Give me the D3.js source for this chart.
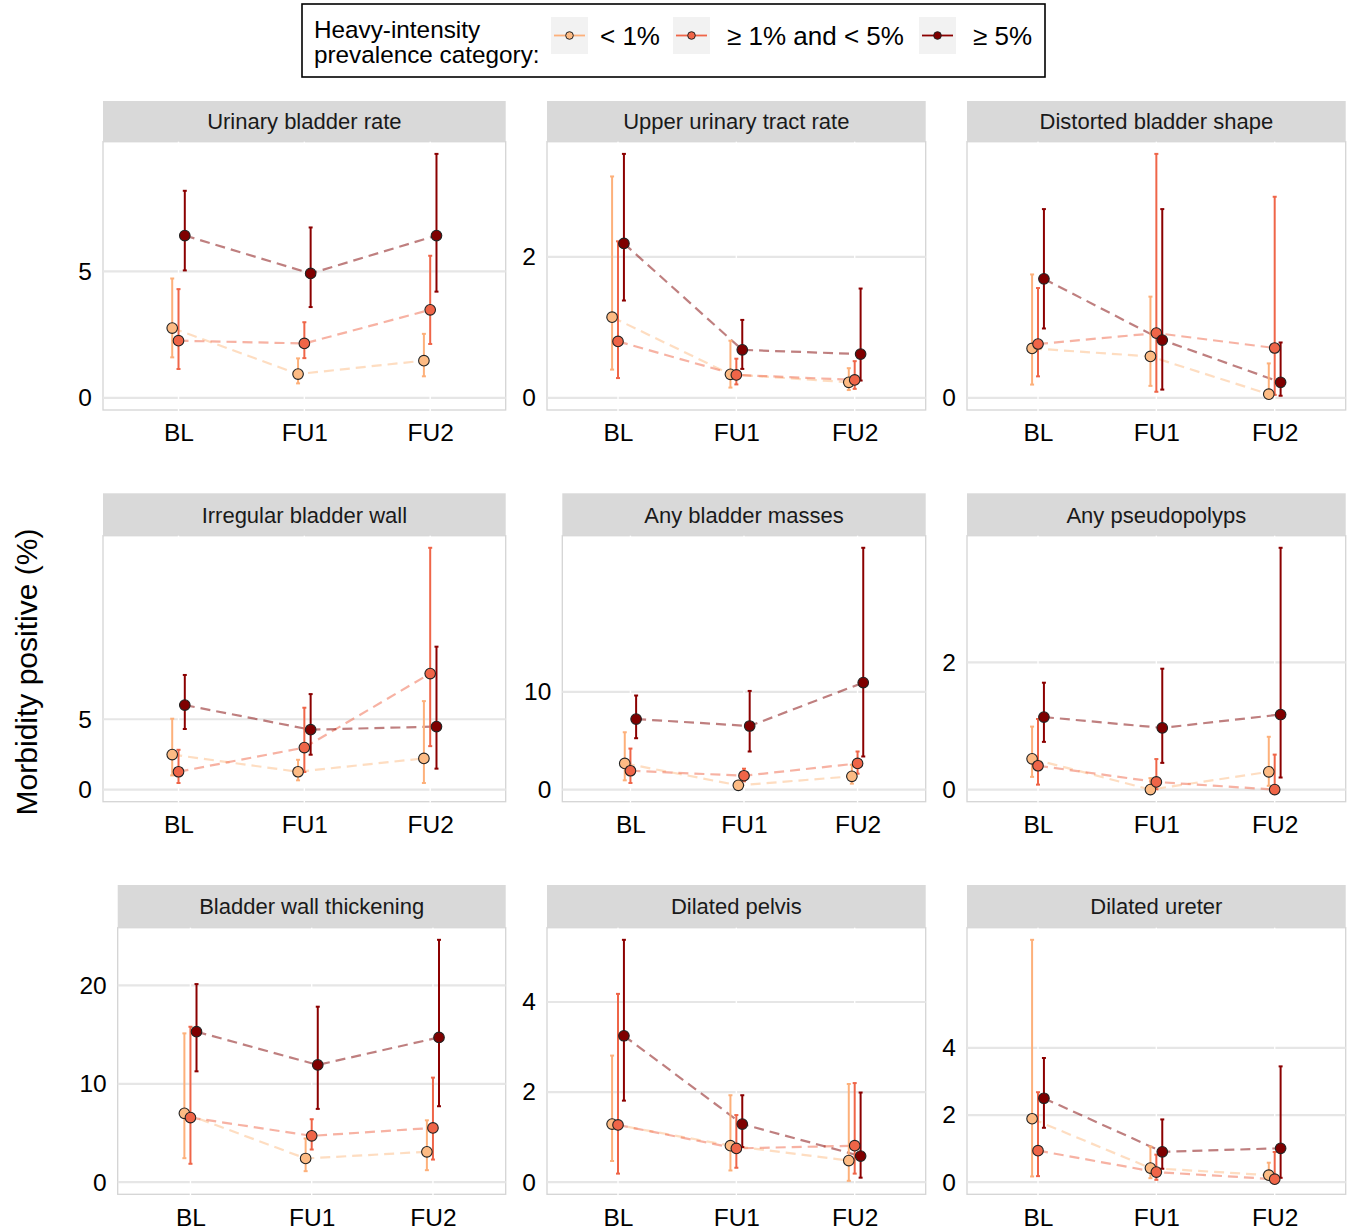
<!DOCTYPE html>
<html>
<head>
<meta charset="utf-8">
<script src="https://cdn.jsdelivr.net/npm/d3@7"></script>
<style>
  body { margin: 0; background: #fff; }
  svg { display: block; }
</style>
</head>
<body>
<svg id="chart" width="1347" height="1230"></svg>
<script>
// ---- Data -------------------------------------------------------------
const timepoints = ["BL", "FU1", "FU2"];
const categories = ["< 1%", "\u2265 1% and < 5%", "\u2265 5%"];
const legendTitle = ["Heavy-intensity", "prevalence category:"];
const yTitle = "Morbidity positive (%)";

const panelTitles = [
  "Urinary bladder rate", "Upper urinary tract rate", "Distorted bladder shape",
  "Irregular bladder wall", "Any bladder masses", "Any pseudopolyps",
  "Bladder wall thickening", "Dilated pelvis", "Dilated ureter"
];
const panelTicks = [[0, 5], [0, 2], [0], [0, 5], [0, 10], [0, 2], [0, 10, 20], [0, 2, 4], [0, 2, 4]];

// Each array: rows = prevalence category (< 1%, 1-5%, >= 5%), columns = BL, FU1, FU2
const urinaryBladderEst  = [[2.76, 0.94, 1.47], [2.26, 2.15, 3.48], [6.42, 4.92, 6.42]];
const urinaryBladderLow  = [[1.60, 0.57, 0.85], [1.14, 1.57, 2.13], [5.04, 3.59, 4.20]];
const urinaryBladderHigh = [[4.72, 1.56, 2.53], [4.30, 2.99, 5.62], [8.19, 6.74, 9.65]];

const upperTractEst  = [[1.144, 0.333, 0.22], [0.80, 0.325, 0.254], [2.19, 0.68, 0.62]];
const upperTractLow  = [[0.40, 0.145, 0.11], [0.28, 0.19, 0.127], [1.38, 0.41, 0.245]];
const upperTractHigh = [[3.14, 0.81, 0.42], [2.22, 0.555, 0.52], [3.46, 1.105, 1.55]];

const distortedEst  = [[0.385, 0.322, 0.028], [0.419, 0.504, 0.388], [0.927, 0.45, 0.121]];
const distortedLow  = [[0.103, 0.093, 0.01], [0.167, 0.047, 0.023], [0.54, 0.064, 0.016]];
const distortedHigh = [[0.961, 0.788, 0.268], [0.855, 1.90, 1.566], [1.47, 1.47, 0.431]];

const irregularEst  = [[2.49, 1.27, 2.22], [1.27, 2.99, 8.25], [6.01, 4.26, 4.48]];
const irregularLow  = [[1.01, 0.66, 0.47], [0.47, 1.25, 3.09], [4.31, 2.48, 1.49]];
const irregularHigh = [[5.04, 2.12, 6.29], [2.83, 5.82, 17.19], [8.15, 6.79, 10.16]];

const massesEst  = [[2.68, 0.44, 1.36], [1.93, 1.42, 2.68], [7.22, 6.51, 10.95]];
const massesLow  = [[0.95, 0.15, 0.61], [0.68, 0.85, 1.63], [5.26, 3.90, 3.39]];
const massesHigh = [[5.87, 0.90, 2.54], [4.20, 2.14, 3.90], [9.63, 10.1, 24.75]];

const pseudopolypsEst  = [[0.484, 0.0, 0.28], [0.375, 0.12, 0.0], [1.14, 0.97, 1.18]];
const pseudopolypsLow  = [[0.20, 0.0, 0.06], [0.078, 0.005, 0.0], [0.75, 0.42, 0.19]];
const pseudopolypsHigh = [[0.99, 0.18, 0.83], [1.11, 0.48, 0.55], [1.68, 1.90, 3.80]];

const thickeningEst  = [[7.0, 2.41, 3.09], [6.57, 4.71, 5.52], [15.3, 11.92, 14.72]];
const thickeningLow  = [[2.44, 1.12, 1.22], [1.87, 3.32, 2.30], [11.27, 7.45, 7.72]];
const thickeningHigh = [[15.13, 4.44, 6.29], [15.8, 6.40, 10.63], [20.14, 17.84, 24.64]];

const pelvisEst  = [[1.29, 0.81, 0.48], [1.27, 0.75, 0.81], [3.25, 1.29, 0.58]];
const pelvisLow  = [[0.47, 0.26, 0.03], [0.19, 0.32, 0.19], [1.81, 0.78, 0.10]];
const pelvisHigh = [[2.81, 1.93, 2.18], [4.18, 1.49, 2.20], [5.38, 1.93, 1.99]];

const ureterEst  = [[1.89, 0.42, 0.21], [0.94, 0.30, 0.09], [2.50, 0.905, 1.01]];
const ureterLow  = [[0.17, 0.12, 0.08], [0.18, 0.07, 0.03], [1.62, 0.40, 0.13]];
const ureterHigh = [[7.22, 1.06, 0.58], [2.68, 0.82, 0.90], [3.70, 1.87, 3.45]];

const panelEst  = [urinaryBladderEst, upperTractEst, distortedEst, irregularEst, massesEst, pseudopolypsEst, thickeningEst, pelvisEst, ureterEst];
const panelLow  = [urinaryBladderLow, upperTractLow, distortedLow, irregularLow, massesLow, pseudopolypsLow, thickeningLow, pelvisLow, ureterLow];
const panelHigh = [urinaryBladderHigh, upperTractHigh, distortedHigh, irregularHigh, massesHigh, pseudopolypsHigh, thickeningHigh, pelvisHigh, ureterHigh];

// ---- Styling & layout -------------------------------------------------
const FONT = "'Liberation Sans', Arial, Helvetica, sans-serif";
const pointFill = ["#fdbb84", "#ef6548", "#7f0000"];
const barColor  = ["#fdb07a", "#ef6548", "#8b0000"];

const rowStripTop   = [101, 493.3, 885];
const rowPanelTop   = [141.7, 535.7, 927.7];
const rowPanelBottom = [410, 801.7, 1194.3];
const panelCols = [
  [103, 505.7], [547, 925.7], [967, 1345.7],
  [103, 505.7], [562.3, 925.7], [967, 1345.7],
  [117.7, 505.7], [547, 925.7], [967, 1345.7]
];

const svg = d3.select("#chart");
svg.append("rect").attr("width", 1347).attr("height", 1230).attr("fill", "#fff");

// ---- Panels -----------------------------------------------------------
panelTitles.forEach((title, i) => {
  const row = Math.floor(i / 3);
  const [left, right] = panelCols[i];
  const top = rowPanelTop[row], bottom = rowPanelBottom[row], stripTop = rowStripTop[row];
  const est = panelEst[i], low = panelLow[i], high = panelHigh[i];

  const x = d3.scalePoint().domain(timepoints).range([left, right]).padding(0.6);
  const dodge = x.step() * 0.05;
  const hiMax = d3.max(high.flat());
  const loMin = Math.min(0, d3.min(low.flat()));
  const pad = (hiMax - loMin) * 0.05;
  const y = d3.scaleLinear().domain([loMin - pad, hiMax + pad]).range([bottom, top]);
  const xPos = (c, t) => x(timepoints[t]) + (c - 1) * dodge;

  const g = svg.append("g");

  // panel background and frame
  g.append("rect")
    .attr("x", left).attr("y", top)
    .attr("width", right - left).attr("height", bottom - top)
    .attr("fill", "#fff").attr("stroke", "#d4d4d4").attr("stroke-width", 1.3);

  // gridlines
  g.selectAll("line.hgrid").data(panelTicks[i]).join("line")
    .attr("class", "hgrid")
    .attr("x1", left).attr("x2", right)
    .attr("y1", d => y(d)).attr("y2", d => y(d))
    .attr("stroke", "#e6e6e6").attr("stroke-width", 2.2);
  g.selectAll("line.vgrid").data(timepoints).join("line")
    .attr("class", "vgrid")
    .attr("x1", d => x(d)).attr("x2", d => x(d))
    .attr("y1", top - 1).attr("y2", bottom + 1)
    .attr("stroke", "#fff").attr("stroke-width", 1.4);

  // strip
  g.append("rect")
    .attr("x", left).attr("y", stripTop)
    .attr("width", right - left).attr("height", top - stripTop)
    .attr("fill", "#d9d9d9");
  g.append("text")
    .attr("x", (left + right) / 2).attr("y", (stripTop + top) / 2 + 8)
    .attr("text-anchor", "middle")
    .attr("font-family", FONT).attr("font-size", 22).attr("fill", "#1a1a1a")
    .text(title);

  // axes
  const ya = g.append("g").attr("transform", `translate(${left},0)`)
    .call(d3.axisLeft(y).tickValues(panelTicks[i]).tickSize(0).tickPadding(11).tickFormat(d3.format("d")));
  const xa = g.append("g").attr("transform", `translate(0,${bottom})`)
    .call(d3.axisBottom(x).tickSize(0).tickPadding(14));
  [ya, xa].forEach(a => {
    a.select(".domain").remove();
    a.selectAll("text").attr("font-family", FONT).attr("font-size", 24.5).attr("fill", "#000");
  });

  // dashed trend lines
  const line = d3.line().x(d => d[0]).y(d => d[1]);
  categories.forEach((cat, c) => {
    const pts = timepoints.map((t, k) => [xPos(c, k), y(est[c][k])]);
    g.append("path")
      .attr("d", line(pts))
      .attr("fill", "none")
      .attr("stroke", pointFill[c]).attr("stroke-opacity", 0.5)
      .attr("stroke-width", 2.2).attr("stroke-dasharray", "10,6");
  });

  // error bars
  categories.forEach((cat, c) => {
    timepoints.forEach((t, k) => {
      const xc = xPos(c, k);
      const eb = g.append("g").attr("stroke", barColor[c]).attr("stroke-width", 2);
      eb.append("line").attr("x1", xc).attr("x2", xc).attr("y1", y(low[c][k])).attr("y2", y(high[c][k]));
      eb.append("line").attr("x1", xc - 2).attr("x2", xc + 2).attr("y1", y(low[c][k])).attr("y2", y(low[c][k]));
      eb.append("line").attr("x1", xc - 2).attr("x2", xc + 2).attr("y1", y(high[c][k])).attr("y2", y(high[c][k]));
    });
  });

  // points
  categories.forEach((cat, c) => {
    g.selectAll(null).data(est[c]).join("circle")
      .attr("cx", (d, k) => xPos(c, k))
      .attr("cy", d => y(d))
      .attr("r", 5.3)
      .attr("fill", pointFill[c])
      .attr("stroke", "#222").attr("stroke-width", 1.1);
  });
});

// ---- Y axis title -----------------------------------------------------
svg.append("text")
  .attr("transform", "translate(37,672) rotate(-90)")
  .attr("text-anchor", "middle")
  .attr("font-family", FONT).attr("font-size", 30).attr("fill", "#000")
  .text(yTitle);

// ---- Legend -----------------------------------------------------------
const lg = svg.append("g");
lg.append("rect")
  .attr("x", 302).attr("y", 4).attr("width", 743).attr("height", 73)
  .attr("fill", "#fff").attr("stroke", "#000").attr("stroke-width", 1.6);
lg.selectAll("text.title").data(legendTitle).join("text")
  .attr("class", "title")
  .attr("x", 314).attr("y", (d, k) => 38 + k * 25)
  .attr("font-family", FONT).attr("font-size", 24.3).attr("fill", "#000")
  .text(d => d);

const keyX = [551, 673, 919];
const labelX = [600, 727, 973];
categories.forEach((cat, c) => {
  const kx = keyX[c], ky = 17, ks = 37;
  lg.append("rect").attr("x", kx).attr("y", ky).attr("width", ks).attr("height", ks).attr("fill", "#f2f2f2");
  lg.append("line")
    .attr("x1", kx + 3).attr("x2", kx + ks - 3)
    .attr("y1", ky + ks / 2).attr("y2", ky + ks / 2)
    .attr("stroke", barColor[c]).attr("stroke-width", 1.8);
  lg.append("circle")
    .attr("cx", kx + ks / 2).attr("cy", ky + ks / 2).attr("r", 3.8)
    .attr("fill", pointFill[c]).attr("stroke", "#222").attr("stroke-width", 1);
  lg.append("text")
    .attr("x", labelX[c]).attr("y", 45)
    .attr("font-family", FONT).attr("font-size", 26).attr("fill", "#000")
    .text(cat);
});
</script>
</body>
</html>
